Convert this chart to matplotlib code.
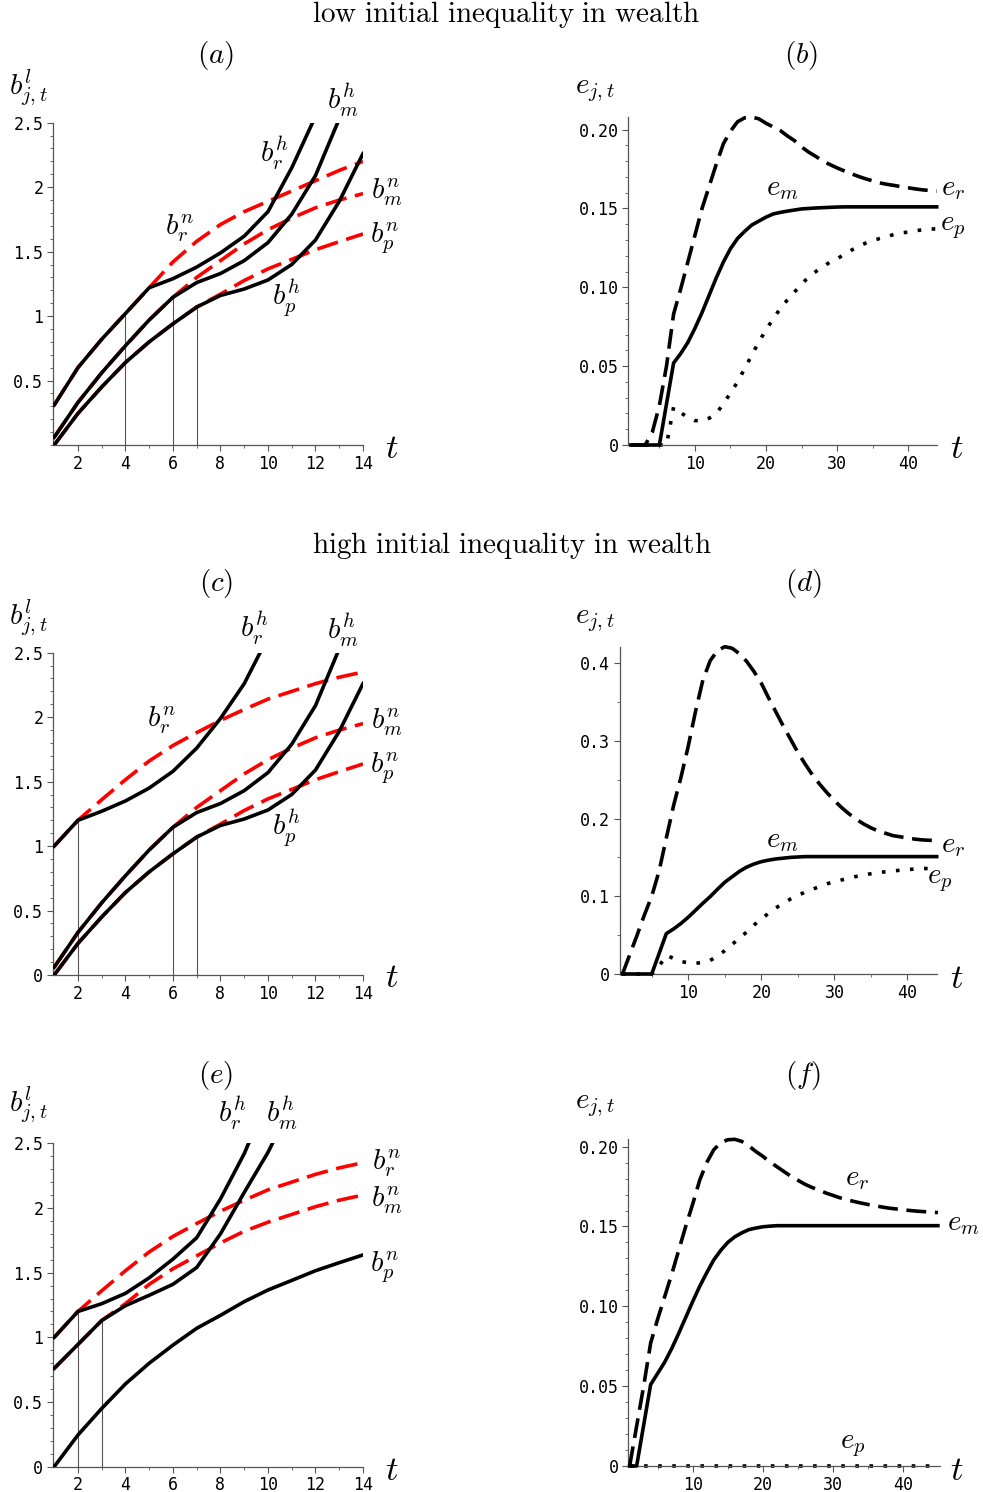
import numpy as np
import matplotlib
matplotlib.use("Agg")
import matplotlib.pyplot as plt
from matplotlib.ticker import MultipleLocator, FixedLocator, FixedFormatter

plt.rcParams['mathtext.fontset'] = 'cm'
plt.rcParams['font.family'] = ['DejaVu Sans Mono', 'DejaVu Sans']

nan = np.nan

# ---------------- data: left panels (t = 1..14) ----------------
t_b = [1, 2, 3, 4, 5, 6, 7, 8, 9, 10, 11, 12, 13, 14]

# panel (a): low initial inequality
a_bh_r = [0.31, 0.60, 0.82, 1.02, 1.22, 1.29, 1.38, 1.49, 1.62, 1.81, 2.15, 2.55, nan, nan]
a_bn_r = [0.31, 0.60, 0.82, 1.02, 1.22, 1.42, 1.58, 1.71, 1.81, 1.89, 1.97, 2.05, 2.13, 2.20]
a_bh_m = [0.06, 0.33, 0.56, 0.77, 0.97, 1.146, 1.26, 1.33, 1.43, 1.57, 1.79, 2.09, 2.53, nan]
a_bn_m = [0.06, 0.33, 0.56, 0.77, 0.97, 1.146, 1.30, 1.43, 1.56, 1.67, 1.76, 1.84, 1.90, 1.95]
a_bh_p = [0.0, 0.245, 0.45, 0.64, 0.80, 0.94, 1.07, 1.16, 1.21, 1.28, 1.40, 1.59, 1.89, 2.26]
a_bn_p = [0.0, 0.245, 0.45, 0.64, 0.80, 0.94, 1.07, 1.17, 1.276, 1.366, 1.44, 1.515, 1.577, 1.637]
a_switch = [4, 6, 7]

# panel (c): high initial inequality
c_bh_r = [1.0, 1.2, 1.27, 1.35, 1.45, 1.58, 1.76, 1.99, 2.26, 2.62, nan, nan, nan, nan]
c_bn_r = [1.0, 1.2, 1.36, 1.515, 1.66, 1.78, 1.88, 1.975, 2.06, 2.14, 2.20, 2.26, 2.31, 2.35]
c_bh_m = [0.06, 0.33, 0.56, 0.77, 0.97, 1.146, 1.26, 1.33, 1.43, 1.57, 1.79, 2.09, 2.53, nan]
c_bn_m = [0.06, 0.33, 0.56, 0.77, 0.97, 1.146, 1.30, 1.43, 1.56, 1.67, 1.76, 1.84, 1.90, 1.95]
c_bh_p = [0.0, 0.245, 0.45, 0.64, 0.80, 0.94, 1.07, 1.16, 1.21, 1.28, 1.40, 1.59, 1.89, 2.26]
c_bn_p = [0.0, 0.245, 0.45, 0.64, 0.80, 0.94, 1.07, 1.17, 1.276, 1.366, 1.44, 1.515, 1.577, 1.637]
c_switch = [2, 6, 7]

# panel (e)
e_bh_r = [1.0, 1.2, 1.26, 1.34, 1.46, 1.605, 1.77, 2.07, 2.42, 2.85, nan, nan, nan, nan]
e_bn_r = [1.0, 1.2, 1.36, 1.515, 1.66, 1.78, 1.88, 1.975, 2.06, 2.14, 2.20, 2.26, 2.31, 2.35]
e_bh_m = [0.76, 0.945, 1.13, 1.245, 1.325, 1.41, 1.54, 1.80, 2.12, 2.43, 2.80, nan, nan, nan]
e_bn_m = [0.76, 0.945, 1.13, 1.26, 1.41, 1.53, 1.63, 1.73, 1.82, 1.89, 1.95, 2.01, 2.06, 2.10]
e_bn_p = [0.0, 0.245, 0.45, 0.64, 0.80, 0.94, 1.07, 1.17, 1.276, 1.366, 1.44, 1.515, 1.577, 1.637]
e_switch = [2, 3]

# ---------------- data: right panels ----------------
t_e44 = list(range(1, 45))
t_e45 = list(range(1, 46))

b_er = [0, 0, 0, 0.008, 0.025, 0.05, 0.083, 0.099, 0.116, 0.133,
        0.150, 0.164, 0.178, 0.191, 0.199, 0.205, 0.2075, 0.208, 0.2068, 0.204,
        0.2017, 0.1994, 0.196, 0.193, 0.189, 0.1857, 0.183, 0.180, 0.1778, 0.1757,
        0.1738, 0.172, 0.1703, 0.1688, 0.1675, 0.1662, 0.1653, 0.1646, 0.1638, 0.1631,
        0.1624, 0.1618, 0.1614, 0.161]
b_em = [0, 0, 0, 0, 0, 0.026, 0.052, 0.058, 0.065, 0.074,
        0.084, 0.095, 0.106, 0.116, 0.1245, 0.131, 0.1355, 0.1395, 0.142, 0.1445,
        0.1465, 0.1475, 0.1483, 0.149, 0.1497, 0.150, 0.1503, 0.1505, 0.1507, 0.1509,
        0.151, 0.151, 0.151, 0.151, 0.151, 0.151, 0.151, 0.151, 0.151, 0.151,
        0.151, 0.151, 0.151, 0.151]
b_ep = [0, 0, 0, 0, 0, 0, 0.024, 0.0205, 0.0175, 0.0155,
        0.0152, 0.017, 0.020, 0.026, 0.033, 0.040, 0.0485, 0.057, 0.0655, 0.073,
        0.080, 0.0865, 0.092, 0.097, 0.102, 0.1066, 0.110, 0.113, 0.116, 0.118,
        0.121, 0.1235, 0.126, 0.128, 0.1295, 0.131, 0.1322, 0.1335, 0.1345, 0.135,
        0.1358, 0.1365, 0.137, 0.137]

d_er = [0, 0.025, 0.05, 0.076, 0.10, 0.132, 0.175, 0.217, 0.253, 0.293,
        0.338, 0.378, 0.403, 0.416, 0.421, 0.419, 0.412, 0.402, 0.389, 0.374,
        0.355, 0.337, 0.319, 0.302, 0.285, 0.270, 0.256, 0.244, 0.233, 0.223,
        0.214, 0.206, 0.199, 0.193, 0.188, 0.184, 0.181, 0.178, 0.1765, 0.175,
        0.1735, 0.1725, 0.172, 0.1716]
d_em = [0, 0, 0, 0, 0, 0.026, 0.052, 0.058, 0.065, 0.073,
        0.082, 0.091, 0.0995, 0.109, 0.118, 0.125, 0.132, 0.1375, 0.1415, 0.1445,
        0.1465, 0.148, 0.149, 0.150, 0.1505, 0.151, 0.151, 0.151, 0.151, 0.151,
        0.151, 0.151, 0.151, 0.151, 0.151, 0.151, 0.151, 0.151, 0.151, 0.151,
        0.151, 0.151, 0.151, 0.151]
d_ep = [0, 0, 0, 0, 0, 0.010, 0.024, 0.020, 0.016, 0.0145,
        0.0137, 0.015, 0.0175, 0.023, 0.030, 0.038, 0.046, 0.054, 0.063, 0.071,
        0.078, 0.085, 0.091, 0.0965, 0.101, 0.1054, 0.109, 0.1125, 0.116, 0.119,
        0.121, 0.1235, 0.1255, 0.1275, 0.129, 0.1305, 0.1315, 0.1325, 0.1335, 0.1343,
        0.135, 0.1355, 0.1358, 0.136]

f_er = [0, 0.025, 0.05, 0.077, 0.092, 0.106, 0.12, 0.135, 0.150, 0.164,
        0.179, 0.190, 0.198, 0.2025, 0.2043, 0.2046, 0.2033, 0.2005, 0.197, 0.194,
        0.1905, 0.1875, 0.1845, 0.1815, 0.179, 0.1765, 0.1745, 0.1728, 0.171, 0.1695,
        0.168, 0.1668, 0.1657, 0.1647, 0.1638, 0.163, 0.1622, 0.1615, 0.161, 0.1605,
        0.160, 0.1596, 0.1593, 0.159, 0.1587]
f_em = [0, 0, 0.0255, 0.051, 0.058, 0.065, 0.0735, 0.083, 0.093, 0.103,
        0.1125, 0.121, 0.129, 0.135, 0.140, 0.1435, 0.146, 0.148, 0.149, 0.1498,
        0.1502, 0.1505, 0.1505, 0.1505, 0.1505, 0.1505, 0.1505, 0.1505, 0.1505, 0.1505,
        0.1505, 0.1505, 0.1505, 0.1505, 0.1505, 0.1505, 0.1505, 0.1505, 0.1505, 0.1505,
        0.1505, 0.1505, 0.1505, 0.1505, 0.1505]
f_ep = [0, 0, 0, 0, 0, 0, 0, 0, 0, 0,
        0, 0, 0, 0, 0, 0, 0, 0, 0, 0,
        0, 0, 0, 0, 0, 0, 0, 0, 0, 0,
        0, 0, 0, 0, 0, 0, 0, 0, 0, 0,
        0, 0, 0, 0, 0]

# ---------------- figure ----------------
W, H = 983, 1492
fig = plt.figure(figsize=(W / 100, H / 100), dpi=100)

AX_COL = '#555555'
LW = 2.6
RED_DASH = (0, (6.0, 2.4))
BLK_DASH = (0, (5.5, 2.4))
DOT = (0, (1, 2.9))
MATH = 21


def add_axes(left, top, right, bottom):
    return fig.add_axes([left / W, 1 - bottom / H, (right - left) / W, (bottom - top) / H])


def ftext(px, py, s, size, **kw):
    fig.text(px / W, 1 - py / H, s, fontsize=size, ha='center', va='center', **kw)


def style(ax):
    for s in ['top', 'right']:
        ax.spines[s].set_visible(False)
    for s in ['left', 'bottom']:
        ax.spines[s].set_color(AX_COL)
        ax.spines[s].set_linewidth(0.9)
    ax.tick_params(which='major', direction='out', length=4, width=0.8,
                   color=AX_COL, labelsize=12, pad=3)
    ax.tick_params(which='minor', direction='out', length=2.2, width=0.6, color=AX_COL)
    ax.patch.set_alpha(0)


def left_panel(ax, black, red, switch, show_zero):
    t = np.array(t_b, dtype=float)
    for yv in red:
        ax.plot(t, np.array(yv, dtype=float), color='red', lw=LW, ls=RED_DASH, zorder=2)
    for yv in black:
        ax.plot(t, np.array(yv, dtype=float), color='black', lw=LW, zorder=3)
    for ts, yv in switch:
        ytop = np.interp(ts, t, np.array(yv, dtype=float))
        ax.plot([ts, ts], [0, ytop], color='#555555', lw=0.8, zorder=1)
    ax.set_xlim(0.95, 14)
    ax.set_ylim(0, 2.5)
    style(ax)
    ax.xaxis.set_major_locator(FixedLocator([2, 4, 6, 8, 10, 12, 14]))
    ax.xaxis.set_minor_locator(FixedLocator([3, 5, 7, 9, 11, 13]))
    if show_zero:
        yt = [0, 0.5, 1, 1.5, 2, 2.5]
        yl = ['0', '0.5', '1', '1.5', '2', '2.5']
    else:
        yt = [0.5, 1, 1.5, 2, 2.5]
        yl = ['0.5', '1', '1.5', '2', '2.5']
    ax.yaxis.set_major_locator(FixedLocator(yt))
    ax.yaxis.set_major_formatter(FixedFormatter(yl))
    ax.yaxis.set_minor_locator(MultipleLocator(0.1))


def right_panel(ax, t, er, em, ep, xlim, ylim, yt, yl, yminor):
    t = np.array(t, dtype=float)
    ax.plot(t, ep, color='black', lw=LW, ls=DOT, zorder=2, clip_on=False)
    ax.plot(t, em, color='black', lw=LW, zorder=3, clip_on=False)
    ax.plot(t, er, color='black', lw=LW, ls=BLK_DASH, zorder=4, clip_on=False)
    ax.set_xlim(*xlim)
    ax.set_ylim(*ylim)
    style(ax)
    ax.xaxis.set_major_locator(FixedLocator([10, 20, 30, 40]))
    ax.xaxis.set_minor_locator(FixedLocator([5, 15, 25, 35]))
    ax.yaxis.set_major_locator(FixedLocator(yt))
    ax.yaxis.set_major_formatter(FixedFormatter(yl))
    ax.yaxis.set_minor_locator(MultipleLocator(yminor))


# ---- (a)
axa = add_axes(53, 122.7, 363, 445)
left_panel(axa, [a_bh_r, a_bh_m, a_bh_p], [a_bn_r, a_bn_m, a_bn_p],
           [(a_switch[0], a_bh_r), (a_switch[1], a_bh_m), (a_switch[2], a_bh_p)], False)
# ---- (c)
axc = add_axes(53, 652.7, 363, 975)
left_panel(axc, [c_bh_r, c_bh_m, c_bh_p], [c_bn_r, c_bn_m, c_bn_p],
           [(c_switch[0], c_bh_r), (c_switch[1], c_bh_m), (c_switch[2], c_bh_p)], True)
# ---- (e)
axe = add_axes(53, 1143.3, 363, 1466.7)
left_panel(axe, [e_bh_r, e_bh_m, e_bn_p], [e_bn_r, e_bn_m],
           [(e_switch[0], e_bh_r), (e_switch[1], e_bh_m)], True)

# ---- (b)
axb = add_axes(628.3, 117.3, 936.7, 445)
right_panel(axb, t_e44, b_er, b_em, b_ep, (0.63, 44), (0, 0.2078),
            [0, 0.05, 0.10, 0.15, 0.20], ['0', '0.05', '0.10', '0.15', '0.20'], 0.01)
# ---- (d)
axd = add_axes(620, 646.7, 936.7, 974)
right_panel(axd, t_e44, d_er, d_em, d_ep, (0.66, 44), (0, 0.421),
            [0, 0.1, 0.2, 0.3, 0.4], ['0', '0.1', '0.2', '0.3', '0.4'], 0.05)
# ---- (f)
axf = add_axes(628.3, 1139.3, 940, 1466)
right_panel(axf, t_e45, f_er, f_em, f_ep, (0.81, 45.3), (0, 0.2046),
            [0, 0.05, 0.10, 0.15, 0.20], ['0', '0.05', '0.10', '0.15', '0.20'], 0.01)

# ---------------- text ----------------
ftext(506, 15, r'$\mathrm{low\ initial\ inequality\ in\ wealth}$', 21)
ftext(512, 545, r'$\mathrm{high\ initial\ inequality\ in\ wealth}$', 21)
for (px, py, s) in [(216, 55, '(a)'), (801, 55, '(b)'), (216, 583, '(c)'),
                    (803, 583, '(d)'), (216, 1075, '(e)'), (803, 1075, '(f)')]:
    ftext(px, py, r'$%s$' % s, 21)

# axis labels
for py in [88, 618, 1105]:
    ftext(28, py, r'$b^l_{j,t}$', 21)
for py in [90, 620, 1105]:
    ftext(595, py, r'$e_{j,t}$', 21)
for py in [448, 977, 1470]:
    ftext(392, py, r'$t$', 25)
for py in [448, 978, 1470]:
    ftext(957, py, r'$t$', 25)

# curve labels
labels = [
    (343, 100, r'$b^h_m$'), (275, 153, r'$b^h_r$'), (180, 228, r'$b^n_r$'),
    (387, 192, r'$b^n_m$'), (385, 238, r'$b^n_p$'), (287, 298, r'$b^h_p$'),
    (255, 628, r'$b^h_r$'), (343, 630, r'$b^h_m$'), (162, 720, r'$b^n_r$'),
    (387, 722, r'$b^n_m$'), (385, 768, r'$b^n_p$'), (287, 828, r'$b^h_p$'),
    (233, 1113, r'$b^h_r$'), (282, 1113, r'$b^h_m$'), (387, 1163, r'$b^n_r$'),
    (387, 1200, r'$b^n_m$'), (385, 1267, r'$b^n_p$'),
    (782, 188, r'$e_m$'), (953, 188, r'$e_r$'), (953, 227, r'$e_p$'),
    (782, 840, r'$e_m$'), (953, 845, r'$e_r$'), (940, 880, r'$e_p$'),
    (857, 1178, r'$e_r$'), (963, 1223, r'$e_m$'), (853, 1445, r'$e_p$'),
]
for px, py, s in labels:
    ftext(px, py, s, MATH)

fig.savefig('out.png', dpi=100)
